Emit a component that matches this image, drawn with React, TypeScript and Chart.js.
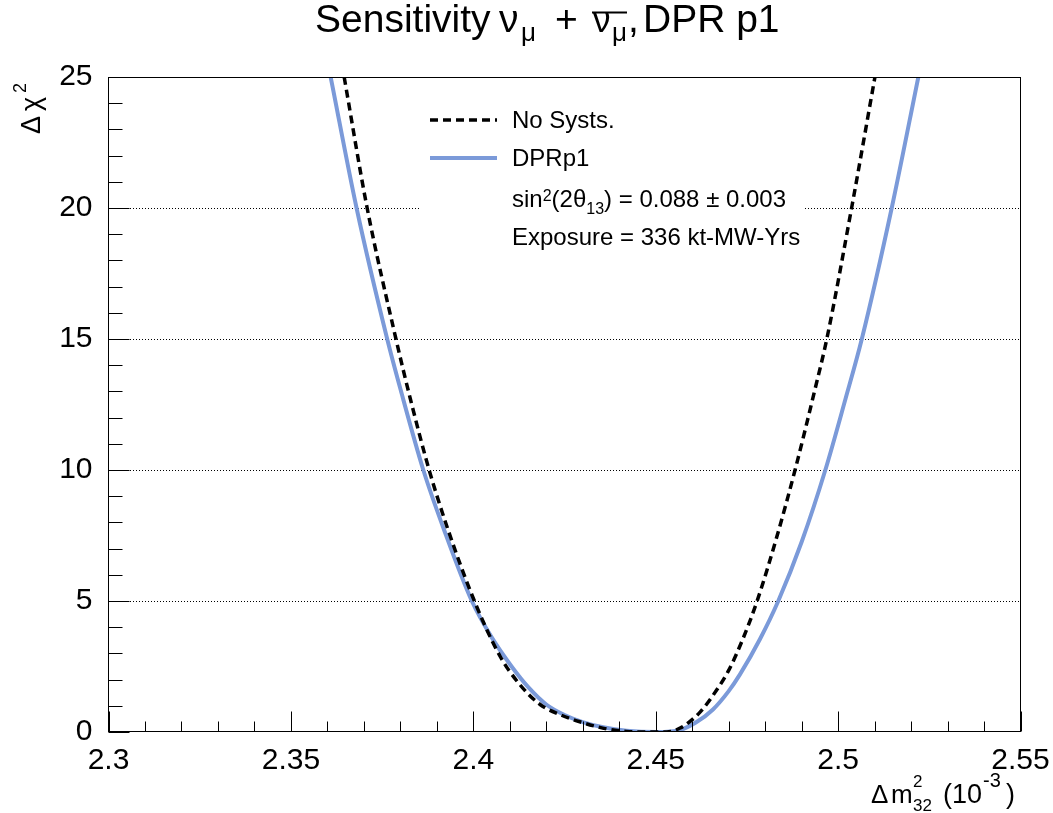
import React, { useEffect, useRef } from 'react';
import { Chart, registerables } from 'chart.js';

Chart.register(...registerables);

const FONT = '"Liberation Sans", Arial, Helvetica, sans-serif';

// axis ranges / ticks
const xRange = [2.3, 2.55];
const yRange = [0, 25];
const xMajorStep = 0.05;
const yMajorStep = 5;
const yGridValues = [5, 10, 15, 20];

// No Systs. (black dashed)
const noSystX = [2.3646, 2.3709, 2.3788, 2.3827, 2.3879, 2.3931, 2.4003, 2.4073, 2.4128, 2.4183, 2.4240, 2.4292, 2.4365, 2.4420, 2.4480, 2.4530, 2.4567, 2.4621, 2.4667, 2.4700, 2.4736, 2.4778, 2.4832, 2.4882, 2.4937, 2.4969, 2.5037, 2.5101];
const noSystY = [25.0, 20.0, 15.0, 12.74, 10.0, 7.71, 5.0, 2.9, 1.8, 1.05, 0.65, 0.39, 0.12, 0.02, 0.0, 0.0, 0.15, 0.75, 1.6, 2.35, 3.45, 5.0, 7.45, 10.0, 13.1, 15.0, 20.0, 25.0];

// DPRp1 (blue solid)
const dprX = [2.3609, 2.3680, 2.3764, 2.3801, 2.3863, 2.3920, 2.3996, 2.4050, 2.4105, 2.4150, 2.4200, 2.4250, 2.4300, 2.4356, 2.4420, 2.4503, 2.4567, 2.4610, 2.4657, 2.4700, 2.4731, 2.4786, 2.4836, 2.4900, 2.4965, 2.5020, 2.5065, 2.5147, 2.5220];
const dprY = [25.0, 20.0, 15.0, 13.05, 10.0, 7.71, 5.0, 3.62, 2.5, 1.72, 1.05, 0.65, 0.38, 0.18, 0.05, 0.0, 0.08, 0.36, 0.86, 1.56, 2.2, 3.55, 5.0, 7.25, 10.0, 12.7, 15.0, 20.0, 25.0];

const legendLabels = ['No Systs.', 'DPRp1'];
const legendInfo1 = ['sin', '2', '(2θ', '13', ') = 0.088 ± 0.003'];
const legendInfo2 = 'Exposure = 336 kt-MW-Yrs';

const BLUE = '#7b9ad9';

function toPoints(xs: number[], ys: number[]) {
  return xs.map((x, i) => ({ x, y: ys[i] }));
}

const decorPlugin = {
  id: 'decor',
  beforeDatasetsDraw(chart: any) {
    const { ctx, chartArea: a, scales } = chart;
    const y = scales.y;
    ctx.save();
    ctx.strokeStyle = '#000';
    ctx.lineWidth = 1;
    ctx.setLineDash([1, 2]);
    for (const v of yGridValues) {
      const py = Math.round(y.getPixelForValue(v)) + 0.5;
      ctx.beginPath();
      ctx.moveTo(Math.round(a.left), py);
      ctx.lineTo(Math.round(a.right), py);
      ctx.stroke();
    }
    ctx.restore();
  },
  afterDatasetsDraw(chart: any) {
    const { ctx, chartArea: a, scales } = chart;
    const x = scales.x;
    const y = scales.y;
    ctx.save();
    // legend box (white, covers grid)
    ctx.fillStyle = '#fff';
    ctx.fillRect(420, 100, 383, 155);

    // frame
    ctx.strokeStyle = '#000';
    ctx.lineWidth = 1;
    ctx.setLineDash([]);
    const L = Math.floor(a.left) + 0.5;
    const R = Math.round(a.right) - 0.5;
    const T = Math.round(a.top) + 0.5;
    const B = Math.round(a.bottom) - 0.5;
    ctx.strokeRect(L, T, R - L, B - T);

    // x ticks (inside)
    const nx = Math.round((xRange[1] - xRange[0]) / 0.01);
    for (let i = 0; i <= nx; i++) {
      const v = xRange[0] + i * 0.01;
      const px = Math.round(x.getPixelForValue(v)) + 0.5;
      const len = i % 5 === 0 ? 20 : 10;
      ctx.beginPath();
      ctx.moveTo(px, B);
      ctx.lineTo(px, B - len);
      ctx.stroke();
    }
    // y ticks (inside)
    const ny = Math.round(yRange[1] - yRange[0]);
    for (let i = 0; i <= ny; i++) {
      const v = yRange[0] + i;
      const py = Math.round(y.getPixelForValue(v)) + 0.5;
      const len = i % 5 === 0 ? 21 : 14;
      ctx.beginPath();
      ctx.moveTo(L, py);
      ctx.lineTo(L + len, py);
      ctx.stroke();
    }

    // legend entries
    ctx.lineWidth = 3.5;
    ctx.strokeStyle = '#000';
    ctx.setLineDash([8, 5]);
    ctx.beginPath();
    ctx.moveTo(430, 120);
    ctx.lineTo(497, 120);
    ctx.stroke();
    ctx.setLineDash([]);
    ctx.strokeStyle = BLUE;
    ctx.lineWidth = 4;
    ctx.beginPath();
    ctx.moveTo(430, 158);
    ctx.lineTo(497, 158);
    ctx.stroke();

    ctx.fillStyle = '#000';
    ctx.textBaseline = 'alphabetic';
    ctx.textAlign = 'left';
    ctx.font = `24px ${FONT}`;
    ctx.fillText(legendLabels[0], 512, 128);
    ctx.fillText(legendLabels[1], 512, 166);
    // sin^2(2θ_13) row
    let cx = 512;
    const main = `24px ${FONT}`;
    const small = `16px ${FONT}`;
    ctx.font = main;
    ctx.fillText(legendInfo1[0], cx, 207);
    cx += ctx.measureText(legendInfo1[0]).width;
    ctx.font = small;
    ctx.fillText(legendInfo1[1], cx, 201);
    cx += ctx.measureText(legendInfo1[1]).width;
    ctx.font = main;
    ctx.fillText(legendInfo1[2], cx, 207);
    cx += ctx.measureText(legendInfo1[2]).width;
    ctx.font = small;
    ctx.fillText(legendInfo1[3], cx, 214);
    cx += ctx.measureText(legendInfo1[3]).width;
    ctx.font = main;
    ctx.fillText(legendInfo1[4], cx, 207);
    ctx.fillText(legendInfo2, 512, 245);
    ctx.restore();
  },
  afterDraw(chart: any) {
    const { ctx } = chart;
    ctx.save();
    ctx.fillStyle = '#000';
    ctx.strokeStyle = '#000';
    ctx.textBaseline = 'alphabetic';
    ctx.textAlign = 'left';

    // Title
    const big = `39px ${FONT}`;
    const sub = `26px ${FONT}`;
    ctx.font = big;
    ctx.fillText('Sensitivity', 315, 32);
    ctx.fillText('ν', 499, 32);
    ctx.font = sub;
    ctx.fillText('μ', 521, 41);
    ctx.font = big;
    ctx.fillText('+', 555, 32);
    ctx.font = `35px ${FONT}`;
    ctx.fillText('ν', 593, 32);
    ctx.font = sub;
    ctx.fillText('μ', 612, 41);
    ctx.lineWidth = 2;
    ctx.beginPath();
    ctx.moveTo(592, 12.5);
    ctx.lineTo(627, 12.5);
    ctx.stroke();
    ctx.font = big;
    ctx.fillText(',', 628, 32);
    ctx.fillText('DPR p1', 643, 32);

    // X axis title: Δ m^2_32 (10^-3)
    const xt = `26px ${FONT}`;
    const xs = `17px ${FONT}`;
    ctx.font = xt;
    ctx.fillText('Δ', 871, 803);
    ctx.fillText('m', 891, 803);
    ctx.font = xs;
    ctx.fillText('2', 913, 787);
    ctx.fillText('32', 913, 811);
    ctx.font = `27px ${FONT}`;
    ctx.fillText('(10', 943, 803);
    ctx.font = `20px ${FONT}`;
    ctx.fillText('-3', 983, 787);
    ctx.font = `27px ${FONT}`;
    ctx.fillText(')', 1006, 803);

    // Y axis title: Δ χ^2 (rotated)
    const yt = `27px ${FONT}`;
    const ys = `18px ${FONT}`;
    const rot = (t: string, px: number, py: number, f: string) => {
      ctx.save();
      ctx.translate(px, py);
      ctx.rotate(-Math.PI / 2);
      ctx.font = f;
      ctx.fillText(t, 0, 0);
      ctx.restore();
    };
    rot('Δ', 40, 134, yt);
    rot('χ', 40, 111, yt);
    rot('2', 26, 93, ys);
    ctx.restore();
  },
};

export default function App() {
  const ref = useRef<HTMLCanvasElement | null>(null);
  useEffect(() => {
    if (!ref.current) return;
    const chart = new Chart(ref.current, {
      type: 'line',
      data: {
        datasets: [
          {
            label: legendLabels[0],
            data: toPoints(noSystX, noSystY),
            borderColor: '#000',
            borderWidth: 3.5,
            borderDash: [8, 5],
            pointRadius: 0,
            cubicInterpolationMode: 'monotone',
            fill: false,
          },
          {
            label: legendLabels[1],
            data: toPoints(dprX, dprY),
            borderColor: BLUE,
            borderWidth: 4,
            pointRadius: 0,
            cubicInterpolationMode: 'monotone',
            fill: false,
          },
        ],
      },
      options: {
        responsive: false,
        animation: false,
        events: [],
        layout: { autoPadding: false, padding: { top: 77, right: 32.5, left: 0, bottom: 0 } },
        plugins: {
          legend: { display: false },
          tooltip: { enabled: false },
          title: { display: false },
        },
        scales: {
          x: {
            type: 'linear',
            min: xRange[0],
            max: xRange[1],
            grid: { display: false, drawTicks: false },
            border: { display: false },
            ticks: {
              stepSize: xMajorStep,
              padding: 11,
              color: '#000',
              font: { family: FONT, size: 30 },
              maxRotation: 0,
              callback: (v: any) => String(Number(Number(v).toFixed(2))),
            },
            afterFit: (s: any) => {
              s.height = 81;
              s.paddingLeft = 0;
              s.paddingRight = 0;
            },
          },
          y: {
            type: 'linear',
            min: yRange[0],
            max: yRange[1],
            grid: { display: false, drawTicks: false },
            border: { display: false },
            ticks: {
              stepSize: yMajorStep,
              padding: 16,
              color: '#000',
              font: { family: FONT, size: 30 },
            },
            afterFit: (s: any) => {
              s.width = 108.5;
              s.paddingTop = 0;
              s.paddingBottom = 0;
            },
          },
        },
      },
      plugins: [decorPlugin],
    } as any);
    return () => chart.destroy();
  }, []);
  return (
    <div style={{ position: 'absolute', left: 0, top: 0, width: 1053, height: 813, background: '#fff' }}>
      <canvas ref={ref} width={1053} height={813} style={{ display: 'block' }} />
    </div>
  );
}
